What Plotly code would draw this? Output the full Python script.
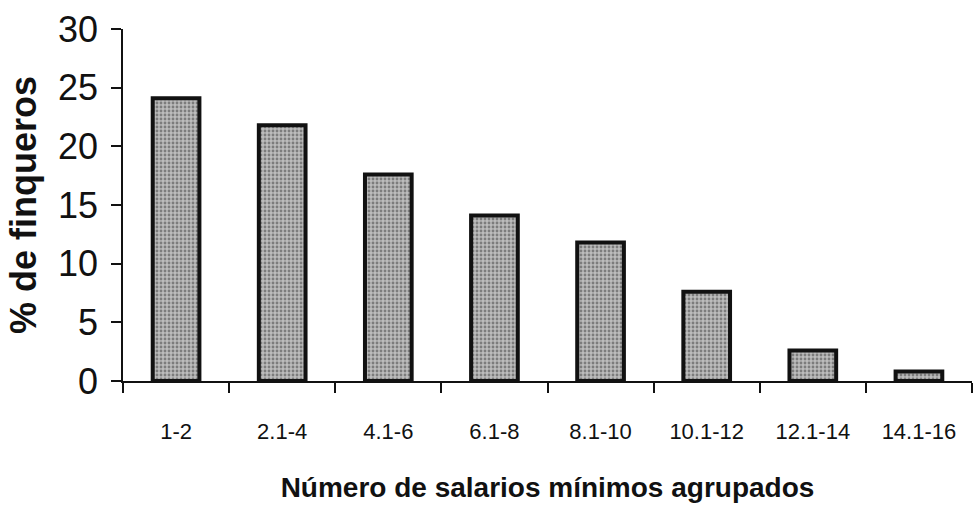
import plotly.graph_objects as go

# Income brackets (number of minimum wages) and share of farmers in each
categories = ["1-2", "2.1-4", "4.1-6", "6.1-8", "8.1-10", "10.1-12", "12.1-14", "14.1-16"]
percent_farmers = [24.1, 21.8, 17.6, 14.1, 11.8, 7.6, 2.6, 0.8]
y_ticks = [0, 5, 10, 15, 20, 25, 30]

fig = go.Figure(
    go.Bar(
        x=categories,
        y=percent_farmers,
        marker=dict(
            color="#a8a8a8",
            line=dict(color="#111111", width=4),
            pattern=dict(shape=".", fgcolor="#3c3c3c", bgcolor="#bcbcbc", size=4, solidity=0.4),
        ),
    )
)

fig.update_layout(
    width=973,
    height=515,
    margin=dict(l=123, r=1, t=29, b=134),
    paper_bgcolor="white",
    plot_bgcolor="white",
    bargap=0.56,
    showlegend=False,
    font=dict(family="Liberation Sans, Arial, sans-serif", color="#111111"),
)

fig.update_xaxes(
    type="category",
    showline=True,
    linecolor="#111111",
    linewidth=1.5,
    ticks="outside",
    tickson="boundaries",
    ticklen=10,
    tickwidth=1.5,
    tickcolor="#111111",
    tickfont=dict(size=22),
    ticklabelstandoff=30,
    showgrid=False,
    title=dict(
        text="<b>Número de salarios mínimos agrupados</b>",
        font=dict(size=28),
        standoff=34,
    ),
)

fig.update_yaxes(
    range=[0, 30],
    tickvals=y_ticks,
    showline=True,
    linecolor="#111111",
    linewidth=1.5,
    ticks="outside",
    ticklen=10,
    tickwidth=1.5,
    tickcolor="#111111",
    tickfont=dict(size=36),
    ticklabelstandoff=6,
    showgrid=False,
    zeroline=False,
    title=dict(
        text="<b>% de finqueros</b>",
        font=dict(size=36),
        standoff=10,
    ),
)

fig.write_html("out.html")
